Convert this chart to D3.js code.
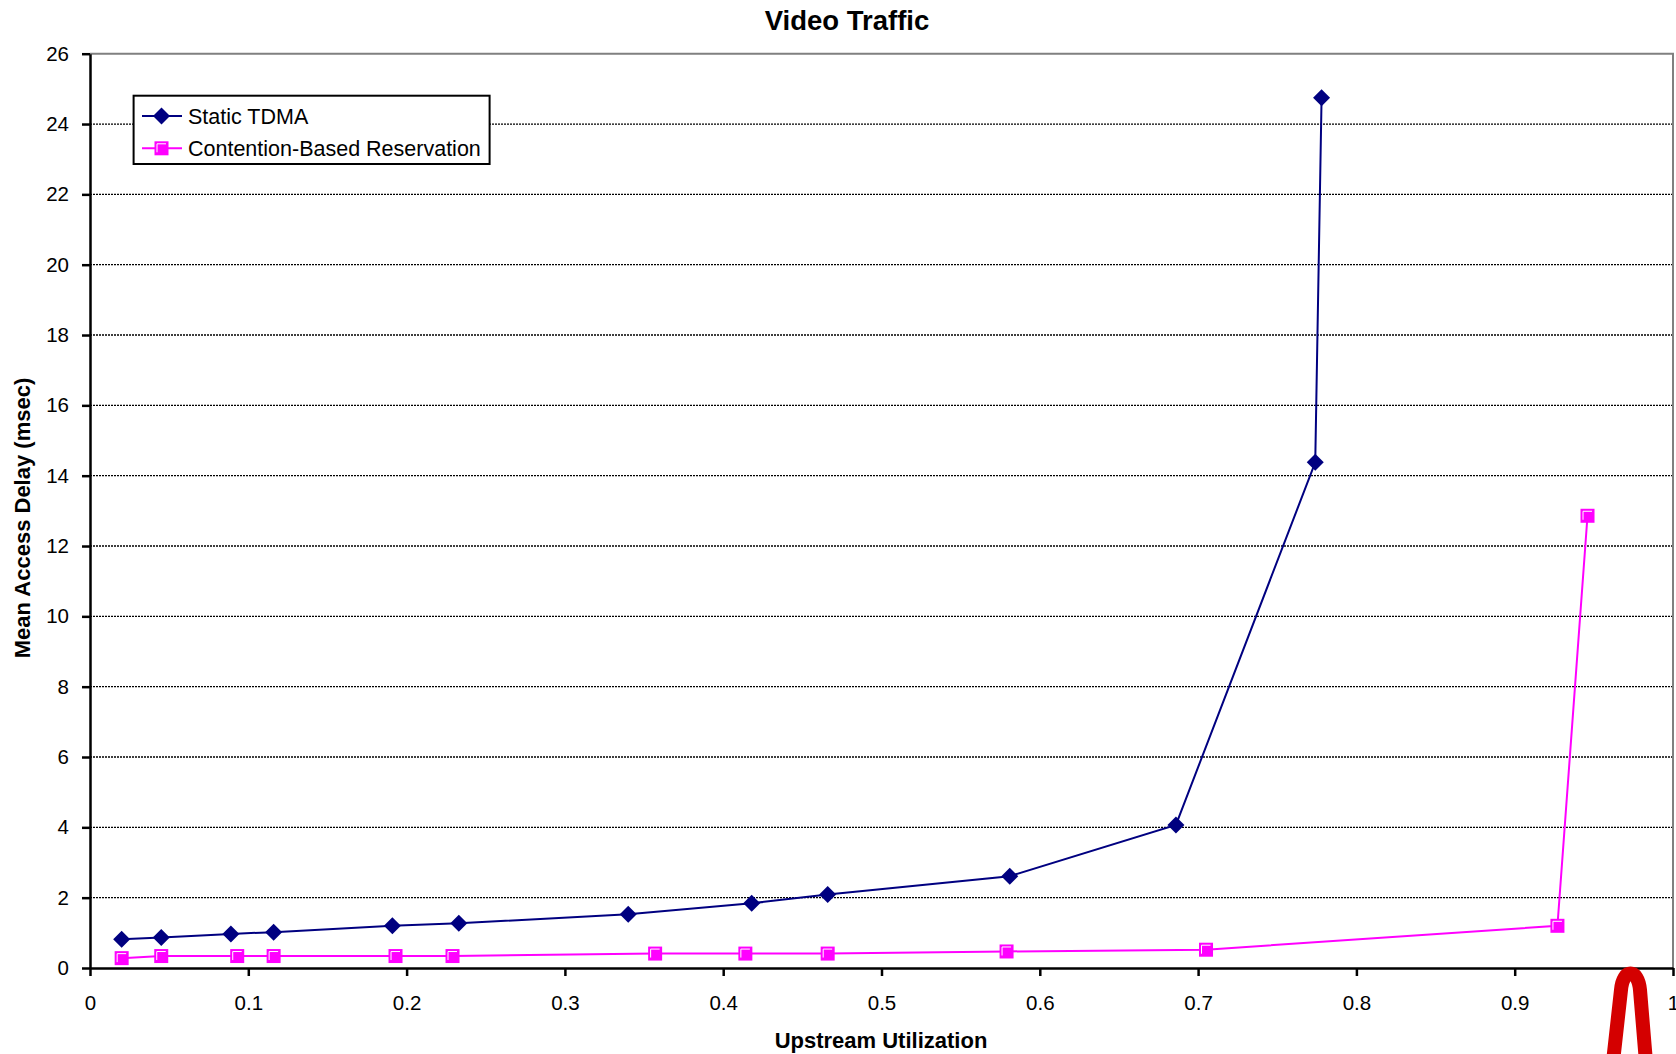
<!DOCTYPE html>
<html>
<head>
<meta charset="utf-8">
<script src="https://cdn.jsdelivr.net/npm/d3@7"></script>
<style>
  html, body { margin: 0; padding: 0; background: #fff; }
  svg { display: block; font-family: "Liberation Sans", Arial, sans-serif; }
</style>
</head>
<body>
<svg id="chart" width="1676" height="1054"></svg>
<script>
// Upstream utilization vs mean access delay for video traffic
const tdmaX = [0.020, 0.045, 0.089, 0.116, 0.191, 0.233, 0.340, 0.418, 0.466, 0.581, 0.686, 0.774, 0.778];
const tdmaY = [0.82, 0.87, 0.97, 1.02, 1.20, 1.27, 1.53, 1.84, 2.09, 2.61, 4.07, 14.38, 24.75];
const cbrX = [0.020, 0.045, 0.093, 0.116, 0.193, 0.229, 0.357, 0.414, 0.466, 0.579, 0.705, 0.927, 0.946];
const cbrY = [0.28, 0.34, 0.34, 0.34, 0.34, 0.34, 0.41, 0.41, 0.41, 0.47, 0.52, 1.20, 12.86];
const seriesNames = ["Static TDMA", "Contention-Based Reservation"];
const xTicks = [0, 0.1, 0.2, 0.3, 0.4, 0.5, 0.6, 0.7, 0.8, 0.9, 1];
const yTicks = [0, 2, 4, 6, 8, 10, 12, 14, 16, 18, 20, 22, 24, 26];
const chartTitle = "Video Traffic";
const xTitle = "Upstream Utilization";
const yTitle = "Mean Access Delay (msec)";

const svg = d3.select("#chart");
const plotL = 90, plotR = 1673, plotT = 53.7, plotB = 968;

const x = d3.scaleLinear().domain([0, 1]).range([plotL, plotR]);
const y = d3.scaleLinear().domain([0, 26]).range([plotB, plotT]);

// dotted horizontal gridlines
svg.append("g").selectAll("line")
  .data(yTicks.filter(v => v > 0 && v < 26))
  .join("line")
  .attr("x1", plotL).attr("x2", plotR)
  .attr("y1", d => y(d)).attr("y2", d => y(d))
  .attr("stroke", "#000").attr("stroke-width", 1.3)
  .attr("stroke-dasharray", "2,1");

// grey frame on top and right
svg.append("path")
  .attr("d", `M${plotL},${y(26)}H${plotR}V${y(0)}`)
  .attr("fill", "none").attr("stroke", "#808080").attr("stroke-width", 2);

const fmtX = d => (d === 0 || d === 1) ? String(d) : d.toFixed(1);

const xAxis = svg.append("g")
  .attr("transform", `translate(0,${plotB})`)
  .call(d3.axisBottom(x).tickValues(xTicks).tickFormat(fmtX).tickSize(8).tickPadding(19).tickSizeOuter(0));
const yAxis = svg.append("g")
  .attr("transform", `translate(${plotL},0)`)
  .call(d3.axisLeft(y).tickValues(yTicks).tickSize(8).tickPadding(13).tickSizeOuter(0));

[xAxis, yAxis].forEach(g => {
  g.select(".domain").attr("stroke", "#000").attr("stroke-width", 2.5);
  g.selectAll(".tick line").attr("stroke", "#000").attr("stroke-width", 2.5);
  g.selectAll(".tick text").attr("fill", "#000")
    .style("font-family", '"Liberation Sans", Arial, sans-serif').style("font-size", "20.5px");
});

// series lines
const line = d3.line().x(d => x(d[0])).y(d => y(d[1]));
const tdma = tdmaX.map((v, i) => [v, tdmaY[i]]);
const cbr = cbrX.map((v, i) => [v, cbrY[i]]);
const navy = "#000080", magenta = "#ff00ff";

svg.append("path").datum(tdma).attr("d", line)
  .attr("fill", "none").attr("stroke", navy).attr("stroke-width", 2);
svg.append("path").datum(cbr).attr("d", line)
  .attr("fill", "none").attr("stroke", magenta).attr("stroke-width", 2);

function diamond(g, cx, cy) {
  const r = 8.5;
  g.append("path")
    .attr("d", `M${cx},${cy - r}L${cx + r},${cy}L${cx},${cy + r}L${cx - r},${cy}Z`)
    .attr("fill", navy);
}
function square(g, cx, cy) {
  const h = 7;
  g.append("rect").attr("x", cx - h).attr("y", cy - h).attr("width", 2 * h).attr("height", 2 * h)
    .attr("fill", magenta);
  g.append("path")
    .attr("d", `M${cx - h + 2.5},${cy + h - 3}V${cy - h + 2.5}H${cx + h - 2.5}`)
    .attr("fill", "none").attr("stroke", "#fff").attr("stroke-width", 1);
}

const mk = svg.append("g");
tdma.forEach(d => diamond(mk, x(d[0]), y(d[1])));
cbr.forEach(d => square(mk, x(d[0]), y(d[1])));

// legend
const lg = svg.append("g");
lg.append("rect").attr("x", 133.6).attr("y", 95.7).attr("width", 356).attr("height", 68.3)
  .attr("fill", "#fff").attr("stroke", "#000").attr("stroke-width", 2);
const rows = [116, 148.3];
lg.append("line").attr("x1", 142).attr("x2", 182).attr("y1", rows[0]).attr("y2", rows[0])
  .attr("stroke", navy).attr("stroke-width", 2);
diamond(lg, 161.5, rows[0]);
lg.append("line").attr("x1", 142).attr("x2", 182).attr("y1", rows[1]).attr("y2", rows[1])
  .attr("stroke", magenta).attr("stroke-width", 2);
square(lg, 161.5, rows[1]);
seriesNames.forEach((n, i) => {
  lg.append("text").attr("x", 188).attr("y", rows[i] + 7.5)
    .attr("font-size", 21.5).attr("fill", "#000").text(n);
});

// titles
svg.append("text").attr("x", 847).attr("y", 30).attr("text-anchor", "middle")
  .attr("font-size", 27.5).attr("font-weight", "bold").text(chartTitle);
svg.append("text").attr("x", 881).attr("y", 1048).attr("text-anchor", "middle")
  .attr("font-size", 22).attr("font-weight", "bold").text(xTitle);
svg.append("text").attr("transform", "translate(30,518) rotate(-90)").attr("text-anchor", "middle")
  .attr("font-size", 22).attr("font-weight", "bold").text(yTitle);

// red arch emblem at the lower right corner
svg.append("path")
  .attr("d", "M1613,1062 L1621,990 C1623,968 1638,968 1640,990 L1646,1062")
  .attr("fill", "none").attr("stroke", "#d40000").attr("stroke-width", 14);
</script>
</body>
</html>
